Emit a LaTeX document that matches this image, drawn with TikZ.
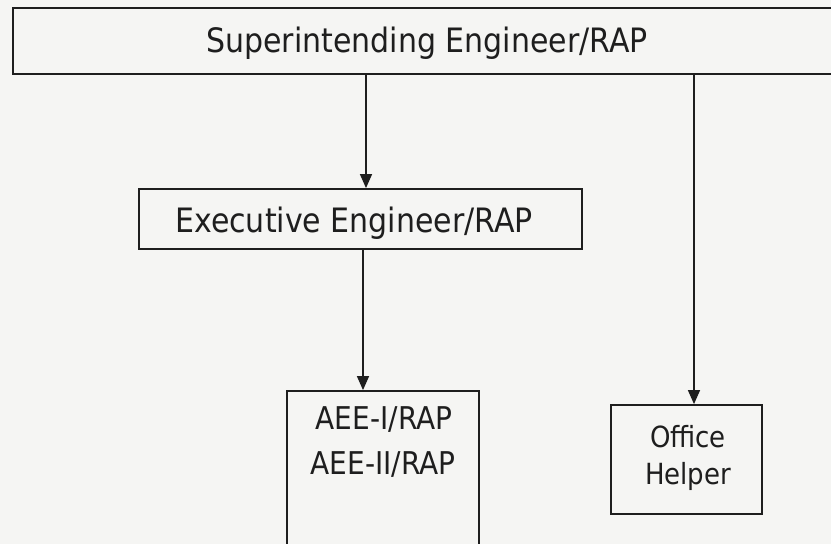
\documentclass[tikz,border=0pt]{standalone}
\usepackage{fontspec}
\usepackage{graphicx}
\setmainfont{DejaVu Sans}
\usetikzlibrary{arrows.meta}
\definecolor{paper}{HTML}{F5F5F3}
\definecolor{ink}{HTML}{1E1E1E}
\newcommand{\tallt}[1]{\scalebox{1}[1.12]{#1}}
\tikzset{
  box/.style={draw=ink, line width=1.8pt, rectangle, inner sep=0pt},
  lbl/.style={inner sep=0pt, text=ink, font=\fontsize{30}{34}\selectfont},
  small/.style={inner sep=0pt, text=ink, font=\fontsize{28}{39}\selectfont},
  link/.style={draw=ink, line width=1.4pt, -{Triangle[width=12pt,length=14pt]}}
}
\begin{document}
\begin{tikzpicture}[x=1pt,y=-1pt]
\fill[paper] (0,0) rectangle (831,544);
\useasboundingbox (0,0) rectangle (831,544);
\clip (0,0) rectangle (831,544);
% boxes
\node[box, minimum width=828pt, minimum height=66pt] (se) at (427,41) {};
\node[lbl] (setxt) at (427,43) {\tallt{Superintending Engineer/RAP}};
\node[box, minimum width=443pt, minimum height=60pt] (ee) at (360.5,219) {};
\node[lbl] (eetxt) at (354,223) {\tallt{Executive Engineer/RAP}};
\node[box, minimum width=192pt, minimum height=175pt] (aee) at (383,478.5) {};
\node[small] (aee1) at (384,420) {\tallt{AEE-I/RAP}};
\node[small] (aee2) at (383,465) {\tallt{AEE-II/RAP}};
\node[box, minimum width=151pt, minimum height=109pt] (oh) at (686.5,459.5) {};
\node[small, font=\fontsize{26}{39}\selectfont] (oh1) at (688,437) {\tallt{Office}};
\node[small, font=\fontsize{26}{39}\selectfont] (oh2) at (688,476) {\tallt{Helper}};
% connector columns
\coordinate (c1) at (366,0);
\coordinate (c2) at (363,0);
\coordinate (c3) at (694,0);
\draw[link] (se.south -| c1) -- (ee.north -| c1);
\draw[link] (ee.south -| c2) -- (aee.north -| c2);
\draw[link] (se.south -| c3) -- (oh.north -| c3);
\end{tikzpicture}
\end{document}
